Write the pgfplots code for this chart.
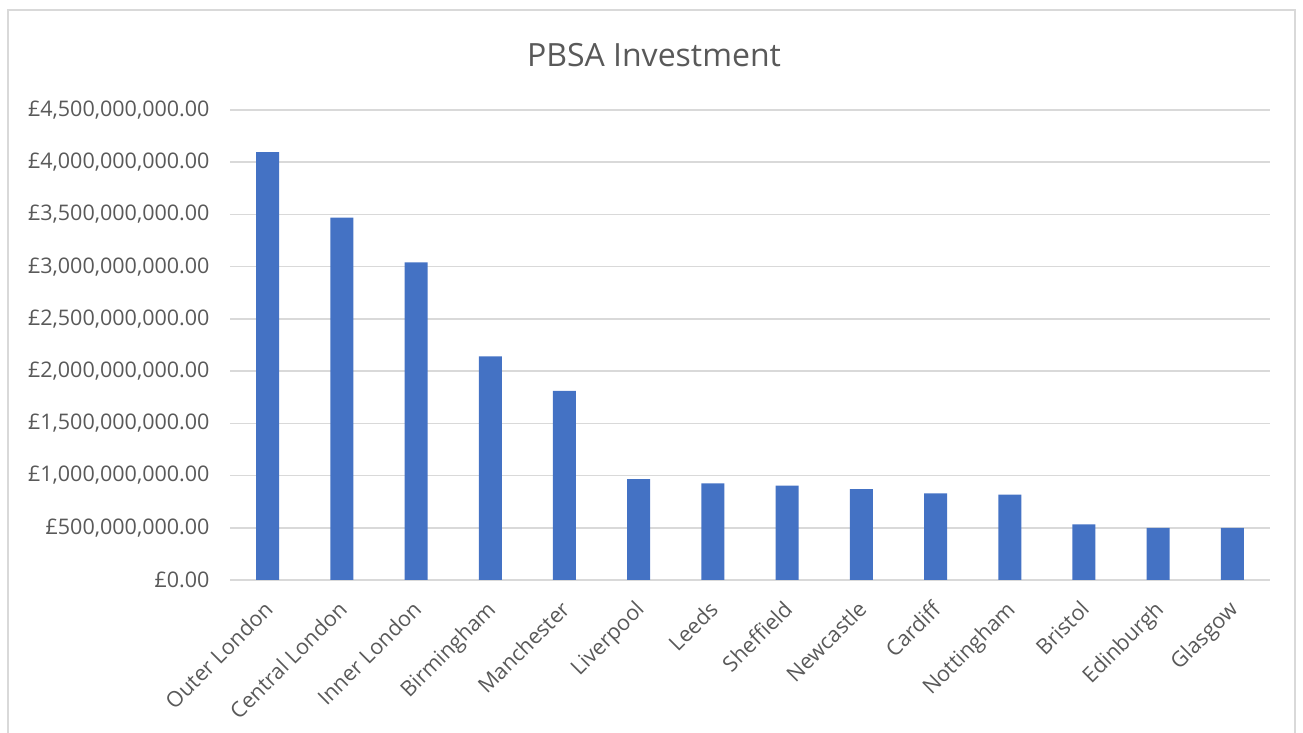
\documentclass[border=0pt]{standalone}
\usepackage{pgfplots}
\pgfplotsset{compat=1.18}
\usepackage{fontspec}
\setmainfont{Open Sans}
\definecolor{barblue}{HTML}{4472C4}
\definecolor{txtgray}{HTML}{595959}
\definecolor{gridgray}{HTML}{D9D9D9}
\begin{document}
\begin{tikzpicture}
\useasboundingbox (0pt,0pt) rectangle (651.5pt,366.5pt);
\draw[gridgray, line width=0.75pt] (4pt,-3pt) -- (4pt,361.5pt) -- (647.5pt,361.5pt) -- (647.5pt,-3pt);
\node[txtgray, font=\fontsize{16}{19}\selectfont] at (327pt,339pt) {PBSA Investment};
\begin{axis}[at={(115.25pt,76.5pt)}, anchor=south west, scale only axis,
  width=519.5pt, height=235pt,
  xmin=-0.5, xmax=13.5, ymin=0, ymax=4.5e9,
  ybar, bar width=11.5pt,
  axis line style={draw=none},
  major tick length=0pt, tick style={draw=none},
  ymajorgrids, grid style={gridgray, line width=0.75pt},
  ytick={0,500000000,1000000000,1500000000,2000000000,2500000000,3000000000,3500000000,4000000000,4500000000},
  yticklabels={£0.00,{£500,000,000.00},{£1,000,000,000.00},{£1,500,000,000.00},{£2,000,000,000.00},{£2,500,000,000.00},{£3,000,000,000.00},{£3,500,000,000.00},{£4,000,000,000.00},{£4,500,000,000.00}},
  yticklabel style={txtgray, font=\fontsize{10.75}{13}\selectfont, xshift=-7pt},
  scaled y ticks=false,
  xtick={0,...,13},
  xticklabels={Outer London,Central London,Inner London,Birmingham,Manchester,Liverpool,Leeds,Sheffield,Newcastle,Cardiff,Nottingham,Bristol,Edinburgh,Glasgow},
  xticklabel style={txtgray, font=\fontsize{10.75}{13}\selectfont, rotate=45, anchor=north east, inner sep=1pt, xshift=-7.4pt, yshift=-3.9pt},
  clip=false,
]
\addplot[fill=barblue, draw=none] coordinates {
(0,4097000000) (1,3470000000) (2,3040000000) (3,2140000000) (4,1810000000)
(5,965000000) (6,926000000) (7,903000000) (8,869000000) (9,830000000)
(10,817000000) (11,533000000) (12,498000000) (13,498000000)};
\end{axis}
\end{tikzpicture}
\end{document}
